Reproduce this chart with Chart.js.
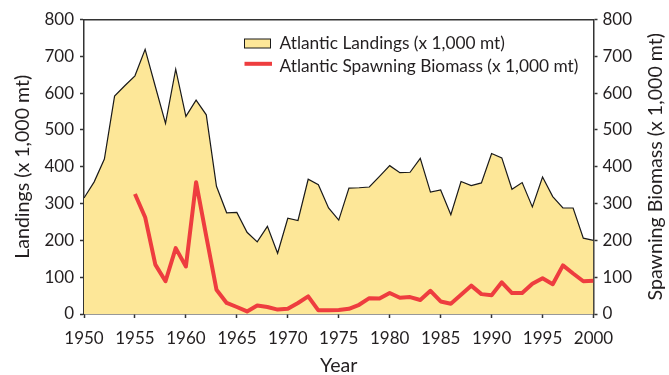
<!DOCTYPE html>
<html>
<head>
<meta charset="utf-8">
<script src="https://cdn.jsdelivr.net/npm/chart.js@4.4.0/dist/chart.umd.min.js"></script>
<style>
  html, body { margin: 0; padding: 0; background: #ffffff; }
  canvas { display: block; }
</style>
</head>
<body>
<canvas id="chart" width="669" height="375"></canvas>
<script>
// ---------------- data ----------------
const years = [1950,1951,1952,1953,1954,1955,1956,1957,1958,1959,
               1960,1961,1962,1963,1964,1965,1966,1967,1968,1969,
               1970,1971,1972,1973,1974,1975,1976,1977,1978,1979,
               1980,1981,1982,1983,1984,1985,1986,1987,1988,1989,
               1990,1991,1992,1993,1994,1995,1996,1997,1998,1999,2000];

const landings = [315,359,421,592,620,647,719,618,518,665,
                  537,581,541,347,275,276,222,196,238,165,
                  260,254,366,351,288,255,342,343,345,374,
                  403,384,385,423,331,337,270,360,349,356,
                  436,424,339,357,291,372,319,288,288,206,200];

const biomass = [null,null,null,null,null,326,263,134,89,179,
                 129,358,211,66,30,19,7,23,19,12,
                 14,30,48,10,10,11,14,25,43,42,
                 57,44,46,38,63,34,28,52,77,54,
                 51,86,57,57,82,97,81,132,110,89,90];

const xTickValues = [1950,1955,1960,1965,1970,1975,1980,1985,1990,1995,2000];
const yTickValues = [0,100,200,300,400,500,600,700,800];

const seriesNames = ['Atlantic Landings (x 1,000 mt)', 'Atlantic Spawning Biomass (x 1,000 mt)'];
const axisTitles = { left: 'Landings (x 1,000 mt)', right: 'Spawning Biomass (x 1,000 mt)', bottom: 'Year' };

// ---------------- style ----------------
const FAMILY = 'Lato, "Open Sans", "DejaVu Sans", sans-serif';
const TEXT = '#231f20';
const AXIS = '#333333';
const FILL = '#fde798';
const RED = '#ee3d3f';

function fitSize(text, target) {
  const c = document.createElement('canvas').getContext('2d');
  c.font = '20px ' + FAMILY;
  return Math.round(20 * target / c.measureText(text).width * 10) / 10;
}
const tickSize = fitSize('1950', 39.5);
const titleSize = fitSize(axisTitles.left, 184);
const legendSize = fitSize(seriesNames[0], 226);

const toXY = (vals) => years.map((yr, i) => ({ x: yr, y: vals[i] }));

const legendPlugin = {
  id: 'insideLegend',
  afterDraw(chart) {
    const ctx = chart.ctx;
    const a = chart.chartArea;
    const x0 = a.left + 160.5;
    const rows = [a.top + 24, a.top + 47.3];
    ctx.save();
    ctx.fillStyle = FILL;
    ctx.strokeStyle = '#1a1a1a';
    ctx.lineWidth = 1;
    ctx.fillRect(x0, rows[0] - 4.5, 26, 9);
    ctx.strokeRect(x0, rows[0] - 4.5, 26, 9);
    ctx.strokeStyle = RED;
    ctx.lineWidth = 4;
    ctx.beginPath();
    ctx.moveTo(x0, rows[1] - 3);
    ctx.lineTo(x0 + 27.5, rows[1] - 3);
    ctx.stroke();
    ctx.fillStyle = TEXT;
    ctx.font = legendSize + 'px ' + FAMILY;
    ctx.textBaseline = 'middle';
    ctx.textAlign = 'left';
    ctx.fillText(chart.data.datasets[1].label, x0 + 35, rows[0]);
    ctx.fillText(chart.data.datasets[0].label, x0 + 35, rows[1]);
    // right axis title, reading bottom-to-top like the left one
    const s = chart.scales.y1;
    ctx.translate(s.right - 13, (a.top + a.bottom) / 2);
    ctx.rotate(-Math.PI / 2);
    ctx.font = titleSize + 'px ' + FAMILY;
    ctx.textAlign = 'center';
    ctx.fillText(axisTitles.right, 0, 0);
    ctx.restore();
  }
};

const tickFont = { family: FAMILY, size: tickSize };
const titleFont = { family: FAMILY, size: titleSize };

const chart = new Chart(document.getElementById('chart'), {
  type: 'line',
  data: {
    datasets: [
      {
        label: seriesNames[1],
        data: toXY(biomass),
        yAxisID: 'y1',
        xAxisID: 'x',
        borderColor: RED,
        borderWidth: 4,
        borderJoinStyle: 'round',
        borderCapStyle: 'butt',
        pointRadius: 0,
        fill: false,
        tension: 0,
        order: 0
      },
      {
        label: seriesNames[0],
        data: toXY(landings),
        yAxisID: 'y',
        xAxisID: 'x',
        borderColor: '#1a1a1a',
        borderWidth: 1.2,
        backgroundColor: FILL,
        pointRadius: 0,
        fill: 'origin',
        tension: 0,
        order: 1
      }
    ]
  },
  options: {
    responsive: false,
    animation: false,
    devicePixelRatio: 1,
    layout: { padding: 0 },
    plugins: { legend: { display: false }, tooltip: { enabled: false } },
    scales: {
      x: {
        type: 'linear', position: 'bottom', min: 1950, max: 2000,
        afterBuildTicks: (s) => { s.ticks = xTickValues.map(v => ({ value: v })); },
        afterFit: (s) => { s.height = 61; },
        ticks: { color: TEXT, font: tickFont, padding: 10, maxRotation: 0, autoSkip: false,
                 callback: (v) => String(v) },
        grid: { display: true, drawOnChartArea: false, drawTicks: true, tickLength: 4, tickColor: AXIS, tickWidth: 1.5 },
        border: { display: true, color: AXIS, width: 1.5 },
        title: { display: true, text: axisTitles.bottom, color: TEXT, font: { family: FAMILY, size: titleSize, lineHeight: 1.0 }, padding: { top: 0, bottom: 0 } }
      },
      xTop: {
        type: 'linear', position: 'top', min: 1950, max: 2000, display: true,
        afterFit: (s) => { s.height = 19.5; },
        ticks: { display: false },
        grid: { display: false, drawTicks: false },
        border: { display: true, color: AXIS, width: 1.5 }
      },
      y: {
        type: 'linear', position: 'left', min: 0, max: 800,
        afterBuildTicks: (s) => { s.ticks = yTickValues.map(v => ({ value: v })); },
        afterFit: (s) => { s.width = 84; },
        ticks: { color: TEXT, font: tickFont, padding: 6, callback: (v) => String(v) },
        grid: { display: true, drawOnChartArea: false, drawTicks: true, tickLength: 4, tickColor: AXIS, tickWidth: 1.5 },
        border: { display: true, color: AXIS, width: 1.5 },
        title: { display: true, text: axisTitles.left, color: TEXT, font: titleFont, padding: { top: 11, bottom: 0 } }
      },
      y1: {
        type: 'linear', position: 'right', min: 0, max: 800,
        afterBuildTicks: (s) => { s.ticks = yTickValues.map(v => ({ value: v })); },
        afterFit: (s) => { s.width = 75.5; },
        ticks: { color: TEXT, font: tickFont, padding: 5, callback: (v) => String(v) },
        grid: { display: true, drawOnChartArea: false, drawTicks: true, tickLength: 4, tickColor: AXIS, tickWidth: 1.5 },
        border: { display: true, color: AXIS, width: 1.5 },
        title: { display: false }
      }
    }
  },
  plugins: [legendPlugin]
});
</script>
</body>
</html>
